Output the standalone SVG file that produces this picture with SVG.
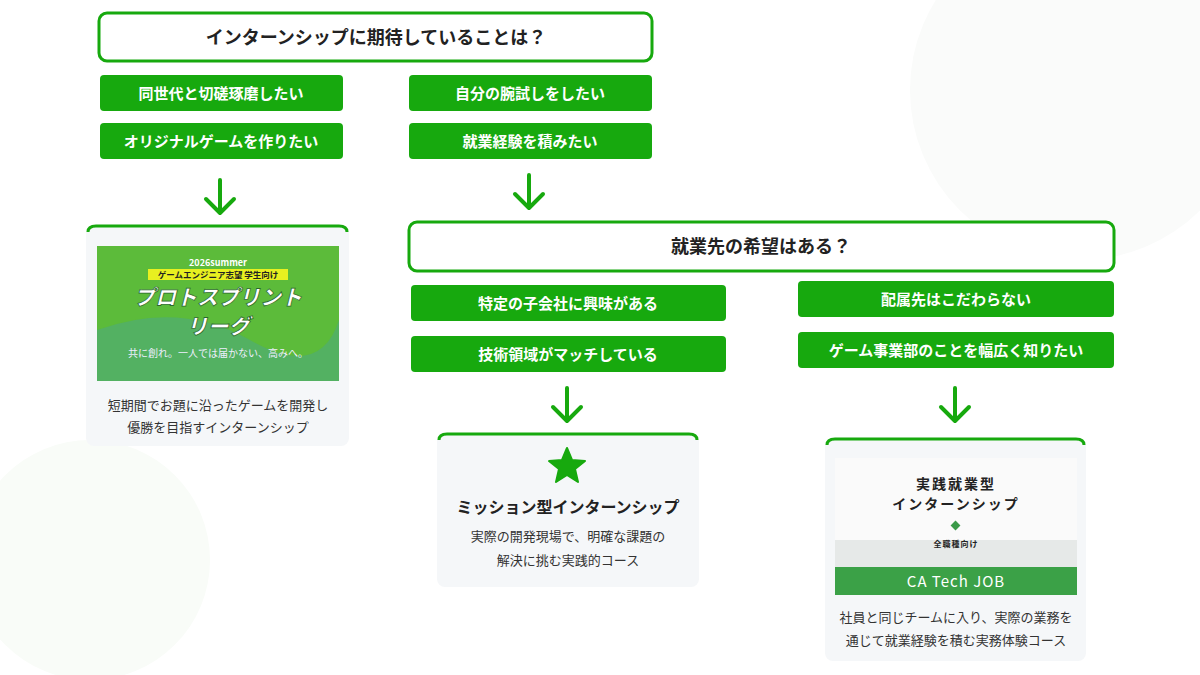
<svg xmlns="http://www.w3.org/2000/svg" width="1200" height="675" viewBox="0 0 1200 675">
<style>
text{font-family:"Noto Sans CJK JP","Noto Sans",sans-serif;}
.q{fill:#fff;stroke:#17a90e;stroke-width:3}
.qt{font-size:18px;font-weight:700;fill:#222;text-anchor:middle}
.b{fill:#17a90e}
.bt{font-size:15px;font-weight:700;fill:#fff;text-anchor:middle}
.card{fill:#f5f7f9}
.top{fill:none;stroke:#17a90e;stroke-width:3}
.ct{font-size:13px;fill:#333;text-anchor:middle}
.arr{fill:none;stroke:#17a90e;stroke-width:4;stroke-linecap:round;stroke-linejoin:round}
</style>
<rect width="1200" height="675" fill="#fff"/>
<circle cx="1080" cy="90" r="170" fill="#fafbfa"/>
<circle cx="90" cy="560" r="120" fill="#f9fcf8"/>
<g id="q1"><rect class="q" x="99" y="13" width="553" height="48" rx="8"/><text class="qt" x="376" y="44">インターンシップに期待していることは？</text></g>
<g id="b1"><rect class="b" x="100" y="75" width="243" height="36" rx="4"/><text class="bt" x="221" y="99">同世代と切磋琢磨したい</text></g>
<g id="b2"><rect class="b" x="100" y="123" width="243" height="36" rx="4"/><text class="bt" x="221" y="147">オリジナルゲームを作りたい</text></g>
<g id="b3"><rect class="b" x="409" y="75" width="243" height="36" rx="4"/><text class="bt" x="530" y="99">自分の腕試しをしたい</text></g>
<g id="b4"><rect class="b" x="409" y="123" width="243" height="36" rx="4"/><text class="bt" x="530" y="147">就業経験を積みたい</text></g>
<g id="q2"><rect class="q" x="409" y="222" width="705" height="49" rx="8"/><text class="qt" x="761" y="253">就業先の希望はある？</text></g>
<g id="b5"><rect class="b" x="411" y="285" width="315" height="36" rx="4"/><text class="bt" x="568" y="309">特定の子会社に興味がある</text></g>
<g id="b6"><rect class="b" x="411" y="336" width="315" height="36" rx="4"/><text class="bt" x="568" y="360">技術領域がマッチしている</text></g>
<g id="b7"><rect class="b" x="798" y="281" width="316" height="36" rx="4"/><text class="bt" x="956" y="305">配属先はこだわらない</text></g>
<g id="b8"><rect class="b" x="798" y="332" width="316" height="36" rx="4"/><text class="bt" x="956" y="356">ゲーム事業部のことを幅広く知りたい</text></g>
<g id="connectors">
<path class="arr" d="M220 180V212M206 199L220 213L234 199"/>
<path class="arr" d="M529 175V207M515 194L529 208L543 194"/>
<path class="arr" d="M567 388V420M553 407L567 421L581 407"/>
<path class="arr" d="M955 388V420M941 407L955 421L969 407"/>
</g>
<g id="card1">
<rect class="card" x="86" y="225" width="263" height="221" rx="8"/>
<path class="top" d="M88 232Q88 226 96 226H339Q347 226 347 232"/>
<rect x="97" y="246" width="242" height="135" fill="#5cbb3a"/>
<path d="M97 330Q180 300 250 340T339 320V381H97Z" fill="#4aa88a" opacity="0.5"/>
<text x="218" y="266" font-size="9" font-weight="700" fill="#fff" text-anchor="middle">2026summer</text>
<rect x="148" y="269" width="140" height="11" fill="#e8f020"/>
<text x="218" y="278" font-size="8.5" font-weight="700" fill="#222" text-anchor="middle">ゲームエンジニア志望 学生向け</text>
<text x="218" y="305" font-size="21" font-weight="900" font-style="italic" fill="#fff" text-anchor="middle" stroke="#2a6a2a" stroke-width="0.8">プロトスプリント</text>
<text x="218" y="334" font-size="21" font-weight="900" font-style="italic" fill="#fff" text-anchor="middle" stroke="#2a6a2a" stroke-width="0.8">リーグ</text>
<text x="218" y="357" font-size="10" fill="#eef" text-anchor="middle">共に創れ。一人では届かない、高みへ。</text>
<text class="ct" x="218" y="410">短期間でお題に沿ったゲームを開発し</text>
<text class="ct" x="218" y="432">優勝を目指すインターンシップ</text>
</g>
<g id="card2">
<rect class="card" x="437" y="433" width="262" height="154" rx="8"/>
<path class="top" d="M439 440Q439 434 447 434H689Q697 434 697 440"/>
<polygon points="567,448 572,460 585,461 575,469 578,482 567,475 556,482 559,469 549,461 562,460" fill="#17a90e" stroke="#17a90e" stroke-width="2" stroke-linejoin="round"/>
<text x="568" y="513" font-size="16" font-weight="700" fill="#222" text-anchor="middle">ミッション型インターンシップ</text>
<text class="ct" x="568" y="541">実際の開発現場で、明確な課題の</text>
<text class="ct" x="568" y="565">解決に挑む実践的コース</text>
</g>
<g id="card3">
<rect class="card" x="825" y="438" width="261" height="223" rx="8"/>
<path class="top" d="M827 445Q827 439 835 439H1076Q1084 439 1084 445"/>
<rect x="835" y="458" width="242" height="137" fill="#fafafa"/>
<rect x="835" y="540" width="242" height="27" fill="#e6e9e8"/>
<text x="956" y="489" font-size="14" font-weight="700" fill="#222" text-anchor="middle" letter-spacing="2">実践就業型</text>
<text x="956" y="509" font-size="14" font-weight="700" fill="#222" text-anchor="middle" letter-spacing="2">インターンシップ</text>
<rect x="952" y="522" width="7" height="7" fill="#3a9a48" transform="rotate(45 955.5 525.5)"/>
<text x="956" y="547" font-size="8" font-weight="700" fill="#222" text-anchor="middle" letter-spacing="1">全職種向け</text>
<rect x="835" y="567" width="242" height="28" fill="#3ba147"/>
<text x="956" y="587" font-size="15" fill="#fff" text-anchor="middle" font-family="Noto Sans,sans-serif" letter-spacing="1">CA Tech JOB</text>
<text class="ct" x="956" y="622">社員と同じチームに入り、実際の業務を</text>
<text class="ct" x="956" y="645">通じて就業経験を積む実務体験コース</text>
</g>
</svg>
